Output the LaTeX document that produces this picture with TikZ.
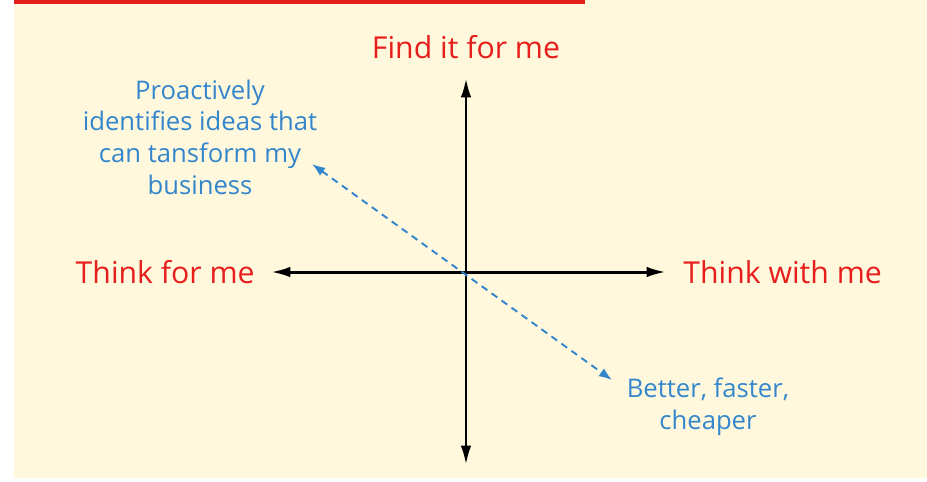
\documentclass[tikz,border=0pt]{standalone}
\usepackage{fontspec}
\setmainfont{Open Sans}
\usepackage{xcolor}
\usetikzlibrary{arrows.meta}
\usetikzlibrary{math}
\definecolor{mycream}{RGB}{255,248,220}
\definecolor{myred}{RGB}{230,30,28}
\definecolor{myblue}{RGB}{52,134,204}

\tikzset{
  axislabel/.style={color=myred, font=\fontsize{17.2}{20}\selectfont, inner sep=0pt},
  bluelabel/.style={color=myblue, font=\fontsize{14.6}{18}\selectfont, align=center, inner sep=0pt},
  axisline/.style={line width=1.7pt, {Latex[length=11pt,width=6pt]}-{Latex[length=11pt,width=6pt]}},
  trendline/.style={myblue, line width=1.1pt, dash pattern=on 4pt off 3pt,
    {Latex[length=7.5pt,width=5.5pt]}-{Latex[length=7.5pt,width=5.5pt]}}
}

\begin{document}
\begin{tikzpicture}[x=0.02cm, y=-0.02cm]
\tikzmath{
\cx=466; \cy=272;
}
\useasboundingbox (0,0) rectangle (927,481);
% background and top bar
\fill[mycream] (14,0) rectangle (927,478);
\fill[myred] (14,0) rectangle (585,4);

% axes
\coordinate (top) at (\cx,78);
\coordinate (bottom) at (\cx,465);
\coordinate (left) at (271,\cy);
\coordinate (right) at (666,\cy);
\draw[axisline] (bottom) -- (top);
\draw[axisline] (left) -- (right);

\node[axislabel] (find) at (\cx,47) {Find it for me};
\node[axislabel, anchor=east] (thinkfor) at (255,\cy) {Think for me};
\node[axislabel, anchor=west] (thinkwith) at (683,\cy) {Think with me};

% blue diagonal
\node[bluelabel] (proactive) at (200,137) {Proactively\\identifies ideas that\\can tansform my\\business};
\node[bluelabel] (better) at (708,407) {Better, faster,\\cheaper};
\coordinate (ul) at (312,164);
\coordinate (lr) at (612,380);
\draw[trendline] (ul) -- (lr);

\end{tikzpicture}
\end{document}
